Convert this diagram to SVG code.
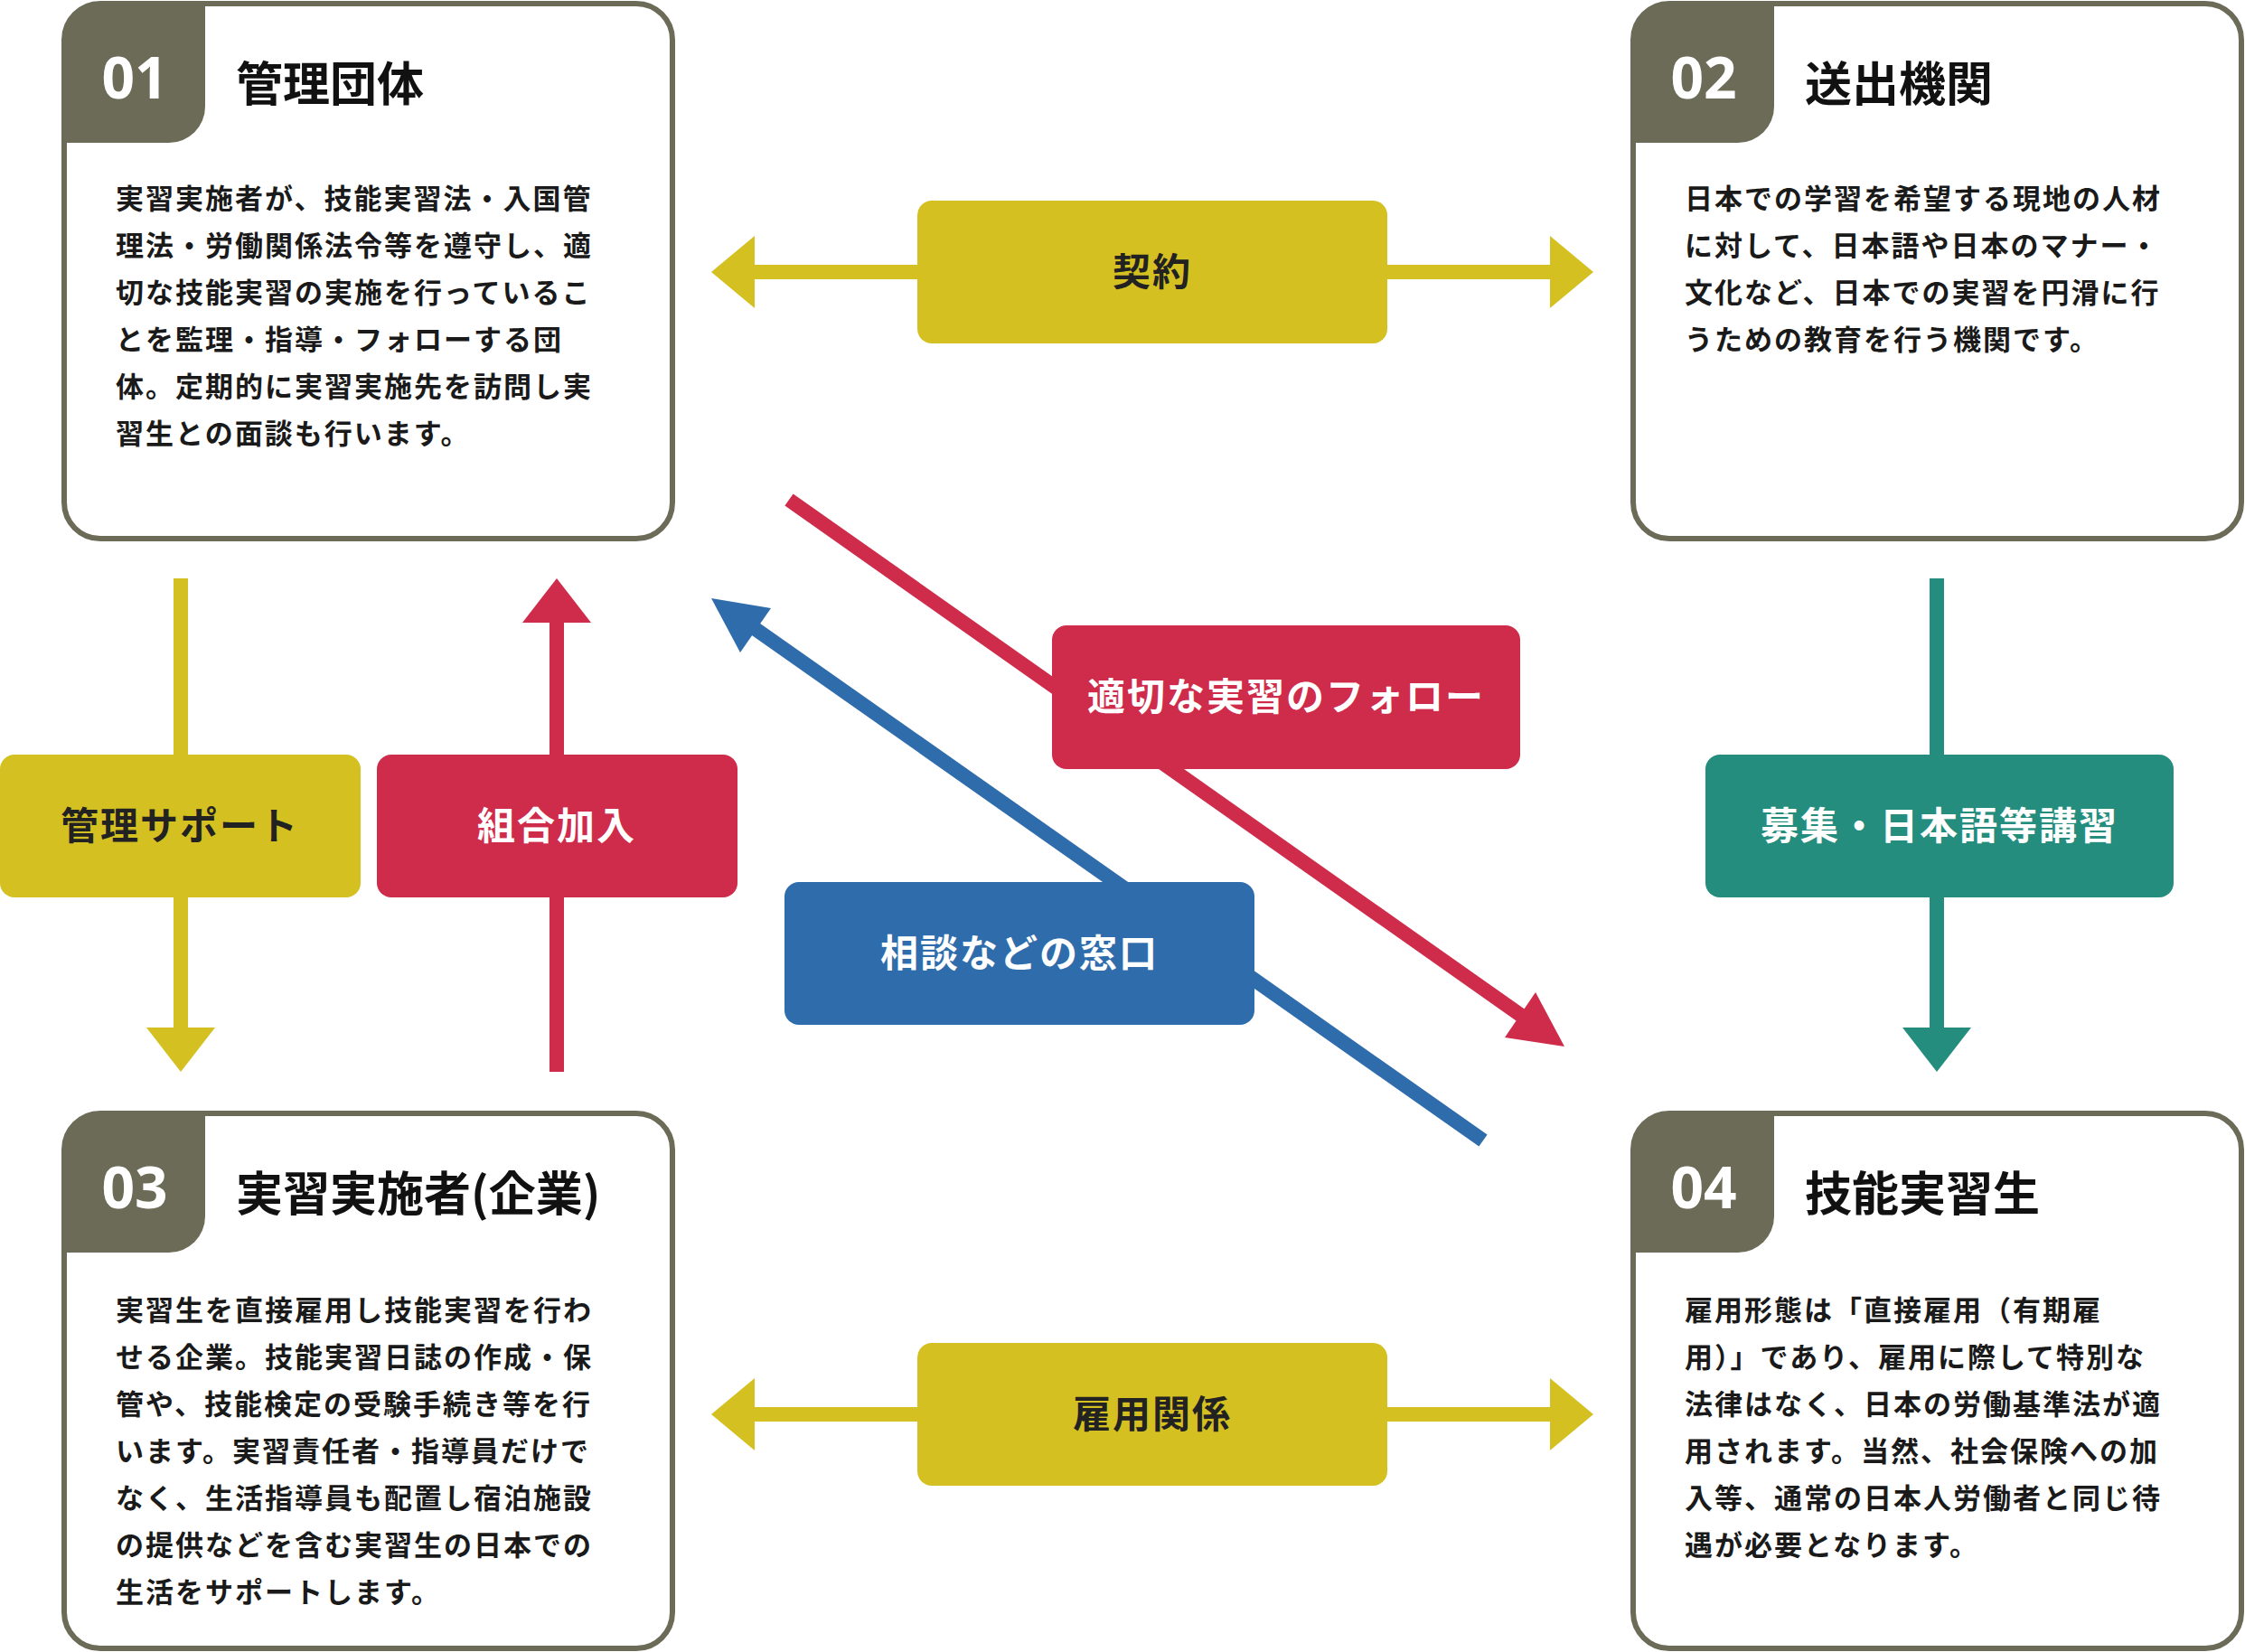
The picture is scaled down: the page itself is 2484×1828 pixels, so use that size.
<svg xmlns="http://www.w3.org/2000/svg" width="2484" height="1828" viewBox="0 0 2484 1828">
<style>
.box{fill:#fff;stroke:#6c6b58;stroke-width:6}
.tab{fill:#6c6b58}
.num{font-family:"Noto Sans",sans-serif;font-weight:700;font-size:64px;fill:#fff;text-anchor:middle}
.ttl{font-family:"Noto Sans CJK JP",sans-serif;font-weight:700;font-size:52px;fill:#111}
.body{font-family:"Noto Sans CJK JP",sans-serif;font-weight:700;font-size:31px;fill:#1a1a1a;letter-spacing:2px}
.lbl{font-family:"Noto Sans CJK JP",sans-serif;font-weight:700;font-size:42px;fill:#fff;text-anchor:middle;letter-spacing:2px}
.dk{fill:#222}
.y{fill:#d4c021}.ys{stroke:#d4c021}
.r{fill:#cf2b4a}.rs{stroke:#cf2b4a}
.b{fill:#2f6cab}.bs{stroke:#2f6cab}
.t{fill:#248d7e}.ts{stroke:#248d7e}
.ln{stroke-width:16;fill:none}
</style>
<g id="connectors">
<line class="ln ys" x1="830" y1="301" x2="1720" y2="301"/>
<polygon class="y" points="787,301 835,261 835,341"/>
<polygon class="y" points="1763,301 1715,261 1715,341"/>
<line class="ln ys" x1="830" y1="1565" x2="1720" y2="1565"/>
<polygon class="y" points="787,1565 835,1525 835,1605"/>
<polygon class="y" points="1763,1565 1715,1525 1715,1605"/>
<line class="ln ys" x1="200" y1="640" x2="200" y2="1140"/>
<polygon class="y" points="200,1186 162,1137 238,1137"/>
<line class="ln rs" x1="616" y1="1186" x2="616" y2="685"/>
<polygon class="r" points="616,640 578,689 654,689"/>
<line class="ln ts" x1="2143" y1="640" x2="2143" y2="1140"/>
<polygon class="t" points="2143,1186 2105,1137 2181,1137"/>
<line class="ln rs" x1="873" y1="553" x2="1685" y2="1125"/>
<polygon class="r" points="1731,1158 1665,1148 1699,1098"/>
<line class="ln bs" x1="1641" y1="1262" x2="833" y2="694"/>
<polygon class="b" points="787,662 853,673 819,722"/>
</g>
<g id="lbl-keiyaku"><rect class="y" x="1015" y="222" width="520" height="158" rx="16"/><text class="lbl dk" x="1275" y="316">契約</text></g>
<g id="lbl-koyou"><rect class="y" x="1015" y="1486" width="520" height="158" rx="16"/><text class="lbl dk" x="1275" y="1580">雇用関係</text></g>
<g id="lbl-kanri"><rect class="y" x="0" y="835" width="399" height="158" rx="16"/><text class="lbl dk" x="199" y="929">管理サポート</text></g>
<g id="lbl-kumiai"><rect class="r" x="417" y="835" width="399" height="158" rx="16"/><text class="lbl" x="616" y="929">組合加入</text></g>
<g id="lbl-boshu"><rect class="t" x="1887" y="835" width="518" height="158" rx="16"/><text class="lbl" x="2146" y="929">募集・日本語等講習</text></g>
<g id="lbl-follow"><rect class="r" x="1164" y="692" width="518" height="159" rx="16"/><text class="lbl" x="1423" y="786">適切な実習のフォロー</text></g>
<g id="lbl-soudan"><rect class="b" x="868" y="976" width="520" height="158" rx="16"/><text class="lbl" x="1128" y="1070">相談などの窓口</text></g>
<g id="node01">
<rect class="box" x="71" y="4" width="673" height="592" rx="40"/>
<path class="tab" d="M71,44 A40,40 0 0 1 111,4 H227 V118 A40,40 0 0 1 187,158 H71 Z"/>
<text class="num" x="149" y="109">01</text>
<text class="ttl" x="261" y="112">管理団体</text>
<text class="body" x="128" y="231">実習実施者が、技能実習法・入国管</text>
<text class="body" x="128" y="283">理法・労働関係法令等を遵守し、適</text>
<text class="body" x="128" y="335">切な技能実習の実施を行っているこ</text>
<text class="body" x="128" y="387">とを監理・指導・フォローする団</text>
<text class="body" x="128" y="439">体。定期的に実習実施先を訪問し実</text>
<text class="body" x="128" y="491">習生との面談も行います。</text>
</g>
<g id="node02">
<rect class="box" x="1807" y="4" width="673" height="592" rx="40"/>
<path class="tab" d="M1807,44 A40,40 0 0 1 1847,4 H1963 V118 A40,40 0 0 1 1923,158 H1807 Z"/>
<text class="num" x="1885" y="109">02</text>
<text class="ttl" x="1997" y="112">送出機関</text>
<text class="body" x="1864" y="231">日本での学習を希望する現地の人材</text>
<text class="body" x="1864" y="283">に対して、日本語や日本のマナー・</text>
<text class="body" x="1864" y="335">文化など、日本での実習を円滑に行</text>
<text class="body" x="1864" y="387">うための教育を行う機関です。</text>
</g>
<g id="node03">
<rect class="box" x="71" y="1232" width="673" height="592" rx="40"/>
<path class="tab" d="M71,1272 A40,40 0 0 1 111,1232 H227 V1346 A40,40 0 0 1 187,1386 H71 Z"/>
<text class="num" x="149" y="1337">03</text>
<text class="ttl" x="261" y="1340">実習実施者(企業)</text>
<text class="body" x="128" y="1461">実習生を直接雇用し技能実習を行わ</text>
<text class="body" x="128" y="1513">せる企業。技能実習日誌の作成・保</text>
<text class="body" x="128" y="1565">管や、技能検定の受験手続き等を行</text>
<text class="body" x="128" y="1617">います。実習責任者・指導員だけで</text>
<text class="body" x="128" y="1669">なく、生活指導員も配置し宿泊施設</text>
<text class="body" x="128" y="1721">の提供などを含む実習生の日本での</text>
<text class="body" x="128" y="1773">生活をサポートします。</text>
</g>
<g id="node04">
<rect class="box" x="1807" y="1232" width="673" height="592" rx="40"/>
<path class="tab" d="M1807,1272 A40,40 0 0 1 1847,1232 H1963 V1346 A40,40 0 0 1 1923,1386 H1807 Z"/>
<text class="num" x="1885" y="1337">04</text>
<text class="ttl" x="1997" y="1340">技能実習生</text>
<text class="body" x="1864" y="1461">雇用形態は「直接雇用（有期雇</text>
<text class="body" x="1864" y="1513">用）」であり、雇用に際して特別な</text>
<text class="body" x="1864" y="1565">法律はなく、日本の労働基準法が適</text>
<text class="body" x="1864" y="1617">用されます。当然、社会保険への加</text>
<text class="body" x="1864" y="1669">入等、通常の日本人労働者と同じ待</text>
<text class="body" x="1864" y="1721">遇が必要となります。</text>
</g>
</svg>
